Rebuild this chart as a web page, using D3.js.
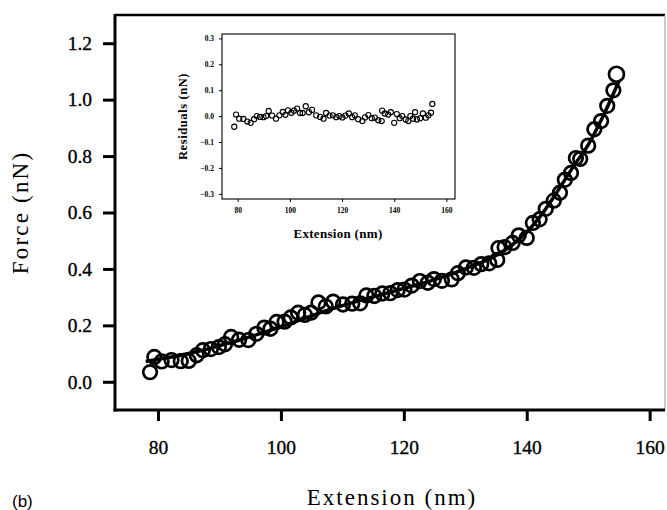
<!DOCTYPE html>
<html>
<head>
<meta charset="utf-8">
<script src="https://cdn.jsdelivr.net/npm/d3@7"></script>
<style>
  body { margin: 0; background: #fff; }
  svg { display: block; }
  text { font-family: "Liberation Serif", "Times New Roman", serif; fill: #000; }
</style>
</head>
<body>
<div id="chart"></div>
<script>
// force-extension curve (b) with residuals inset

// measured points, main panel
let extension = [78.7, 79.4, 80.6, 82.2, 83.7, 85.0, 86.3, 87.3, 88.6, 89.9,
                 90.9, 91.9, 93.2, 94.7, 96.0, 97.3, 98.3, 99.3, 100.6, 101.6,
                 102.8, 103.9, 104.9, 106.1, 107.3, 108.5, 110.1, 111.6, 112.9, 113.9,
                 115.2, 116.5, 117.8, 119.0, 120.1, 121.3, 122.6, 123.9, 124.9, 126.2,
                 127.8, 128.8, 130.1, 131.4, 132.6, 133.9, 135.2, 135.4, 136.4, 137.7,
                 138.7, 140.0, 141.0, 142.1, 143.1, 144.4, 145.4, 146.2, 147.2, 148.0,
                 148.7, 150.0, 151.0, 152.1, 153.1, 154.1, 154.6];
let force = [0.034, 0.088, 0.072, 0.077, 0.073, 0.074, 0.094, 0.112, 0.116, 0.123,
             0.133, 0.159, 0.149, 0.148, 0.170, 0.192, 0.188, 0.212, 0.213, 0.228,
             0.245, 0.237, 0.245, 0.281, 0.267, 0.284, 0.274, 0.277, 0.278, 0.306,
             0.304, 0.313, 0.314, 0.325, 0.327, 0.341, 0.357, 0.351, 0.364, 0.358,
             0.363, 0.385, 0.405, 0.404, 0.417, 0.420, 0.432, 0.474, 0.477, 0.492,
             0.519, 0.510, 0.563, 0.576, 0.613, 0.642, 0.670, 0.716, 0.740, 0.793,
             0.790, 0.837, 0.895, 0.924, 0.978, 1.033, 1.090];

// fitted curve
let fitX = [78, 80, 82.5, 85, 87.5, 90, 92.5, 95, 97.5, 100, 102.5, 105, 107.5, 110,
            112.5, 115, 117.5, 120, 122.5, 125, 127.5, 130, 132.5, 135, 137.5, 140,
            142.5, 145, 147.5, 150, 152.5, 155];
let fitF = [0.072, 0.080, 0.089, 0.100, 0.113, 0.128, 0.143, 0.160, 0.177, 0.195,
            0.214, 0.234, 0.253, 0.270, 0.286, 0.301, 0.316, 0.331, 0.346, 0.362,
            0.380, 0.400, 0.422, 0.448, 0.483, 0.530, 0.595, 0.675, 0.760, 0.840,
            0.945, 1.065];

// residuals, inset
let residX = [78.7, 79.4, 80.6, 82.2, 83.7, 85.0, 86.3, 87.3, 88.6, 89.9,
              90.9, 91.9, 93.2, 94.7, 96.0, 97.3, 98.3, 99.3, 100.6, 101.6,
              102.8, 103.9, 104.9, 106.1, 107.3, 108.5, 110.1, 111.6, 112.9, 113.9,
              115.2, 116.5, 117.8, 119.0, 120.1, 121.3, 122.6, 123.9, 124.9, 126.2,
              127.8, 128.8, 130.1, 131.4, 132.6, 133.9, 135.2, 135.4, 136.4, 137.7,
              138.7, 140.0, 141.0, 142.1, 143.1, 144.4, 145.4, 146.2, 147.2, 148.0,
              148.7, 150.0, 151.0, 152.1, 153.1, 154.1, 154.6];
let residual = [-0.041, 0.006, -0.010, -0.011, -0.021, -0.026, -0.012, 0.000, -0.003, -0.004,
                0.000, 0.020, 0.002, -0.010, 0.003, 0.016, 0.005, 0.022, 0.013, 0.021,
                0.029, 0.012, 0.012, 0.038, 0.015, 0.024, 0.003, -0.003, -0.010, 0.012,
                0.002, 0.003, -0.004, 0.000, -0.005, 0.002, 0.010, -0.004, 0.003, -0.012,
                -0.019, -0.005, 0.004, -0.008, -0.006, -0.016, -0.019, 0.021, 0.010, 0.006,
                0.015, -0.026, 0.008, -0.008, 0.000, -0.013, -0.019, 0.000, -0.010, 0.015,
                -0.013, -0.008, 0.010, -0.006, 0.003, 0.013, 0.047];

let xTicks = [80, 100, 120, 140, 160];
let yTicks = [0.0, 0.2, 0.4, 0.6, 0.8, 1.0, 1.2];
let insetYTicks = [-0.3, -0.2, -0.1, 0.0, 0.1, 0.2, 0.3];

let width = 667, height = 510;
let svg = d3.select("#chart").append("svg")
    .attr("width", width)
    .attr("height", height);

// ---- main panel ----
let box = {left: 115, right: 665, top: 15, bottom: 410};

let x = d3.scaleLinear().domain([73, 162.5]).range([box.left, box.right]);
let y = d3.scaleLinear().domain([-0.1, 1.3]).range([box.bottom, box.top]);

// frame: top and right thinner
svg.append("line")
    .attr("x1", box.left).attr("x2", box.right)
    .attr("y1", box.top).attr("y2", box.top)
    .attr("stroke", "#000").attr("stroke-width", 2.5);
svg.append("line")
    .attr("x1", box.right).attr("x2", box.right)
    .attr("y1", box.top).attr("y2", box.bottom)
    .attr("stroke", "#aaa").attr("stroke-width", 1.2);

let xAxis = svg.append("g")
    .attr("transform", "translate(0," + box.bottom + ")")
    .call(d3.axisBottom(x).tickValues(xTicks).tickSize(11).tickPadding(19)
        .tickFormat(d3.format("d")));
let yAxis = svg.append("g")
    .attr("transform", "translate(" + box.left + ",0)")
    .call(d3.axisLeft(y).tickValues(yTicks).tickSize(12).tickPadding(11)
        .tickFormat(d3.format(".1f")));

[xAxis, yAxis].forEach(function(g) {
    g.attr("font-family", "Liberation Serif");
    g.select(".domain").attr("stroke", "#000").attr("stroke-width", 3)
        .attr("d", g === xAxis
            ? "M" + (box.left - 1.5) + ",0H" + box.right
            : "M0," + (box.top - 1) + "V" + (box.bottom + 1.5));
    g.selectAll(".tick line").attr("stroke", "#000").attr("stroke-width", 3);
    g.selectAll(".tick text")
        .style("font-family", "'Liberation Serif', serif")
        .style("font-size", "19.5px")
        .attr("fill", "#000")
        .attr("stroke", "#000")
        .attr("stroke-width", 0.35);
});

// data circles
svg.append("g").selectAll("circle")
    .data(extension.map(function(d, i) { return {x: d, f: force[i]}; }))
    .enter().append("circle")
    .attr("cx", function(d) { return x(d.x); })
    .attr("cy", function(d) { return y(d.f); })
    .attr("r", function(d, i) { return i === extension.length - 1 ? 7.5 : 6.8; })
    .attr("fill", "none")
    .attr("stroke", "#000")
    .attr("stroke-width", 2.7);

// fit line
let fitLine = d3.line()
    .x(function(d, i) { return x(fitX[i]); })
    .y(function(d) { return y(d); })
    .curve(d3.curveMonotoneX);
svg.append("path")
    .datum(fitF)
    .attr("d", fitLine)
    .attr("fill", "none")
    .attr("stroke", "#000")
    .attr("stroke-width", 3.5);

svg.append("text")
    .attr("transform", "translate(28," + ((box.top + box.bottom) / 2) + ") rotate(-90)")
    .style("text-anchor", "middle")
    .style("font-size", "23px")
    .style("letter-spacing", "2.2px")
    .text("Force (nN)");

svg.append("text")
    .attr("x", 392).attr("y", 505)
    .style("text-anchor", "middle")
    .style("font-size", "23px")
    .style("letter-spacing", "2px")
    .text("Extension (nm)");

svg.append("text")
    .attr("x", 12).attr("y", 507)
    .style("font-family", "'Liberation Sans', Arial, sans-serif")
    .style("font-size", "17px")
    .text("(b)");

// ---- inset: residuals ----
let ib = {left: 222, right: 455, top: 34, bottom: 199};
let ix = d3.scaleLinear().domain([74, 163.3]).range([ib.left, ib.right]);
let iy = d3.scaleLinear().domain([-0.32, 0.317]).range([ib.bottom, ib.top]);

svg.append("rect")
    .attr("x", ib.left).attr("y", ib.top)
    .attr("width", ib.right - ib.left).attr("height", ib.bottom - ib.top)
    .attr("fill", "#fff")
    .attr("stroke", "#000").attr("stroke-width", 1.1);

let ixAxis = svg.append("g")
    .attr("transform", "translate(0," + ib.bottom + ")")
    .call(d3.axisBottom(ix).tickValues(xTicks).tickSize(3).tickPadding(6)
        .tickFormat(d3.format("d")));
let iyAxis = svg.append("g")
    .attr("transform", "translate(" + ib.left + ",0)")
    .call(d3.axisLeft(iy).tickValues(insetYTicks).tickSize(3).tickPadding(5)
        .tickFormat(d3.format(".1f")));

[ixAxis, iyAxis].forEach(function(g) {
    g.select(".domain").remove();
    g.selectAll(".tick line").attr("stroke", "#000").attr("stroke-width", 1);
    g.selectAll(".tick text")
        .style("font-family", "'Liberation Serif', serif")
        .style("font-size", "7.5px")
        .style("font-weight", "bold")
        .attr("fill", "#000");
});

svg.append("g").selectAll("circle")
    .data(residX.map(function(d, i) { return {x: d, r: residual[i]}; }))
    .enter().append("circle")
    .attr("cx", function(d) { return ix(d.x); })
    .attr("cy", function(d) { return iy(d.r); })
    .attr("r", 2.6)
    .attr("fill", "none")
    .attr("stroke", "#000")
    .attr("stroke-width", 1.1);

svg.append("text")
    .attr("transform", "translate(187," + ((ib.top + ib.bottom) / 2) + ") rotate(-90)")
    .style("text-anchor", "middle")
    .style("font-size", "12.5px")
    .style("font-weight", "bold")
    .style("letter-spacing", "0.6px")
    .text("Residuals (nN)");

svg.append("text")
    .attr("x", 338).attr("y", 238)
    .style("text-anchor", "middle")
    .style("font-size", "13px")
    .style("font-weight", "bold")
    .style("letter-spacing", "0.3px")
    .text("Extension (nm)");
</script>
</body>
</html>
